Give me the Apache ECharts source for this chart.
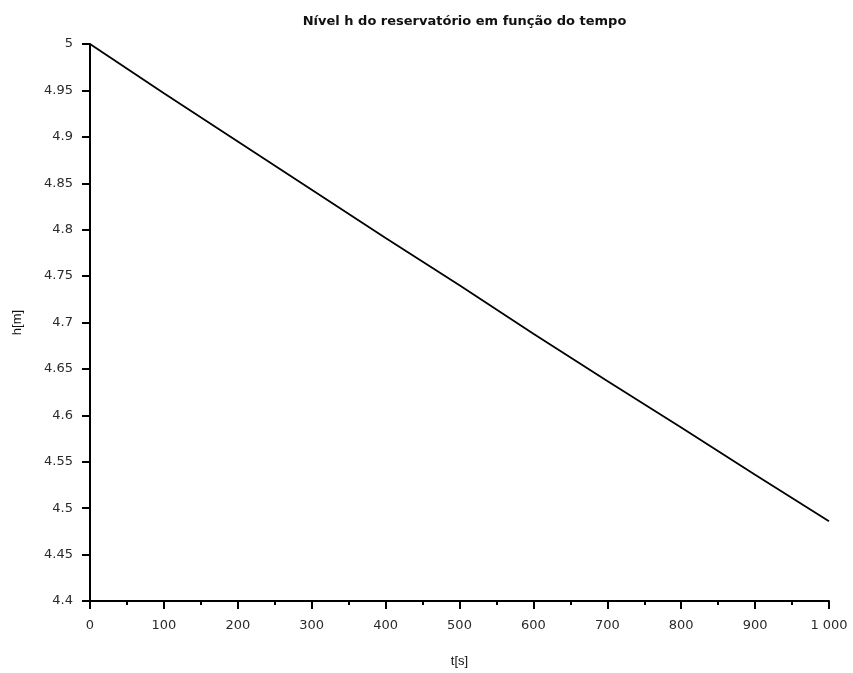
<!DOCTYPE html>
<html>
<head>
<meta charset="utf-8">
<script src="https://cdn.jsdelivr.net/npm/echarts@6/dist/echarts.min.js"></script>
<style>
  html, body { margin: 0; padding: 0; background: #fff; }
  #chart { width: 853px; height: 673px; }
</style>
</head>
<body>
<div id="chart"></div>
<script>
// Reservoir level h [m] sampled every 100 s
const times = [0, 100, 200, 300, 400, 500, 600, 700, 800, 900, 1000];
const levels = [5.000, 4.947, 4.895, 4.843, 4.791, 4.740, 4.688, 4.637, 4.587, 4.536, 4.486];

const titleText = 'Nível h do reservatório em função do tempo';
const xName = 't[s]';
const yName = 'h[m]';

const chart = echarts.init(document.getElementById('chart'), null, { renderer: 'canvas' });

const labelFont = {
  color: '#2a2a2a',
  fontSize: 13,
  fontFamily: 'DejaVu Sans, sans-serif'
};
const nameFont = {
  color: '#111',
  fontSize: 13,
  fontFamily: 'Liberation Sans, Arial, sans-serif'
};

chart.setOption({
  animation: false,
  backgroundColor: '#fff',
  title: {
    text: titleText,
    left: 459.5,
    textAlign: 'center',
    top: 10,
    textStyle: {
      fontSize: 13,
      fontWeight: 'bold',
      color: '#111',
      fontFamily: 'DejaVu Sans, sans-serif'
    }
  },
  grid: { left: 90, right: 24, top: 44, bottom: 72, containLabel: false },
  xAxis: {
    type: 'value',
    min: 0,
    max: 1000,
    interval: 100,
    name: xName,
    nameLocation: 'middle',
    nameGap: 54,
    nameTextStyle: nameFont,
    axisLine: { show: true, onZero: false, lineStyle: { color: '#000', width: 2 } },
    axisTick: { show: true, length: 8, lineStyle: { color: '#000', width: 2 } },
    minorTick: { show: true, splitNumber: 2, length: 4, lineStyle: { color: '#000', width: 2 } },
    splitLine: { show: false },
    axisLabel: Object.assign({}, labelFont, {
      margin: 18,
      formatter: v => v === 1000 ? '1 000' : String(v)
    })
  },
  yAxis: {
    type: 'value',
    min: 4.4,
    max: 5,
    interval: 0.05,
    name: yName,
    nameLocation: 'middle',
    nameGap: 66,
    nameTextStyle: nameFont,
    axisLine: { show: true, onZero: false, lineStyle: { color: '#000', width: 2 } },
    axisTick: { show: true, length: 8, lineStyle: { color: '#000', width: 2 } },
    splitLine: { show: false },
    axisLabel: Object.assign({}, labelFont, {
      margin: 17,
      formatter: v => String(+v.toFixed(2))
    })
  },
  series: [{
    type: 'line',
    data: times.map((t, i) => [t, levels[i]]),
    showSymbol: false,
    smooth: false,
    lineStyle: { color: '#000', width: 1.8 }
  }]
});
</script>
</body>
</html>
